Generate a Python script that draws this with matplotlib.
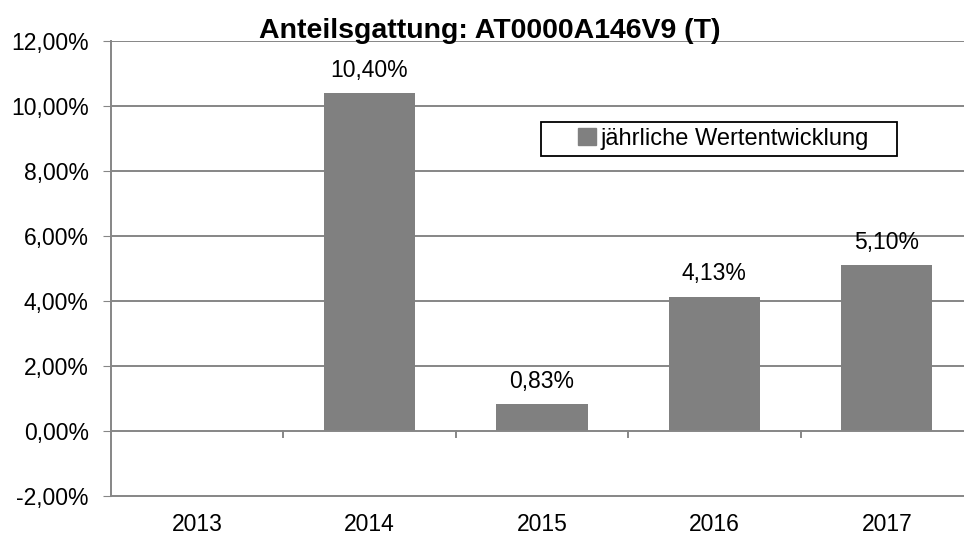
import matplotlib.pyplot as plt
from matplotlib.ticker import FuncFormatter
from matplotlib.patches import Patch, Rectangle

plt.rcParams['font.family'] = ['Liberation Sans', 'DejaVu Sans']

years = ['2013', '2014', '2015', '2016', '2017']
values = [None, 10.40, 0.83, 4.13, 5.10]
series_name = 'jährliche Wertentwicklung'
title = 'Anteilsgattung: AT0000A146V9 (T)'

grid_col = '#868686'
bar_col = '#808080'

fig = plt.figure(figsize=(9.64, 5.38), dpi=100)
ax = fig.add_axes([0.1151, 0.0781, 0.8942, 0.8457])

x = list(range(len(years)))
for i, v in zip(x, values):
    if v is None:
        continue
    ax.bar(i, v, width=0.53, color=bar_col, zorder=3)
    ax.text(i, v + 0.35, f'{v:.2f}%'.replace('.', ','), ha='center', va='bottom',
            fontsize=16.5, color='black')

ax.set_xlim(-0.5, len(years) - 0.5)
ax.set_ylim(-2, 12)
ax.set_yticks(range(-2, 13, 2))
ax.yaxis.set_major_formatter(FuncFormatter(lambda v, p: f'{v:.2f}%'.replace('.', ',')))
ax.tick_params(axis='y', length=6, color=grid_col, labelsize=16.5, pad=10)

# horizontal gridlines
for yv in range(2, 13, 2):
    ax.axhline(yv, color=grid_col, lw=1.4, zorder=1)
ax.axhline(0, color=grid_col, lw=1.4, zorder=4)

# category ticks on the zero line, between categories
for b in [0.5, 1.5, 2.5, 3.5]:
    ax.plot([b, b], [0, -0.17], color=grid_col, lw=1.4, clip_on=False, zorder=4)

ax.set_xticks(x)
ax.set_xticklabels(years)
ax.tick_params(axis='x', length=0, labelsize=16.5, pad=12)

for s in ['top', 'right']:
    ax.spines[s].set_visible(False)
ax.spines['left'].set_color(grid_col)
ax.spines['left'].set_linewidth(1.4)
ax.spines['bottom'].set_color(grid_col)
ax.spines['bottom'].set_linewidth(1.4)

# legend box (Excel style, wide padding)
fig.patches.append(Rectangle((0.5612, 0.710), 0.369, 0.0632, transform=fig.transFigure,
                             fill=True, facecolor='white', edgecolor='black', lw=1.3,
                             zorder=5))
leg = fig.legend(handles=[Patch(color=bar_col, label=series_name)],
                 loc='center left', bbox_to_anchor=(0.6, 0.7425),
                 frameon=False, fontsize=17,
                 handlelength=0.75, handleheight=0.75, handletextpad=0.2,
                 borderpad=0, borderaxespad=0)
leg.set_zorder(6)

fig.text(0.508, 0.943, title, ha='center', va='center', fontsize=20.5,
         fontweight='bold')

fig.savefig('out.png', dpi=100)
